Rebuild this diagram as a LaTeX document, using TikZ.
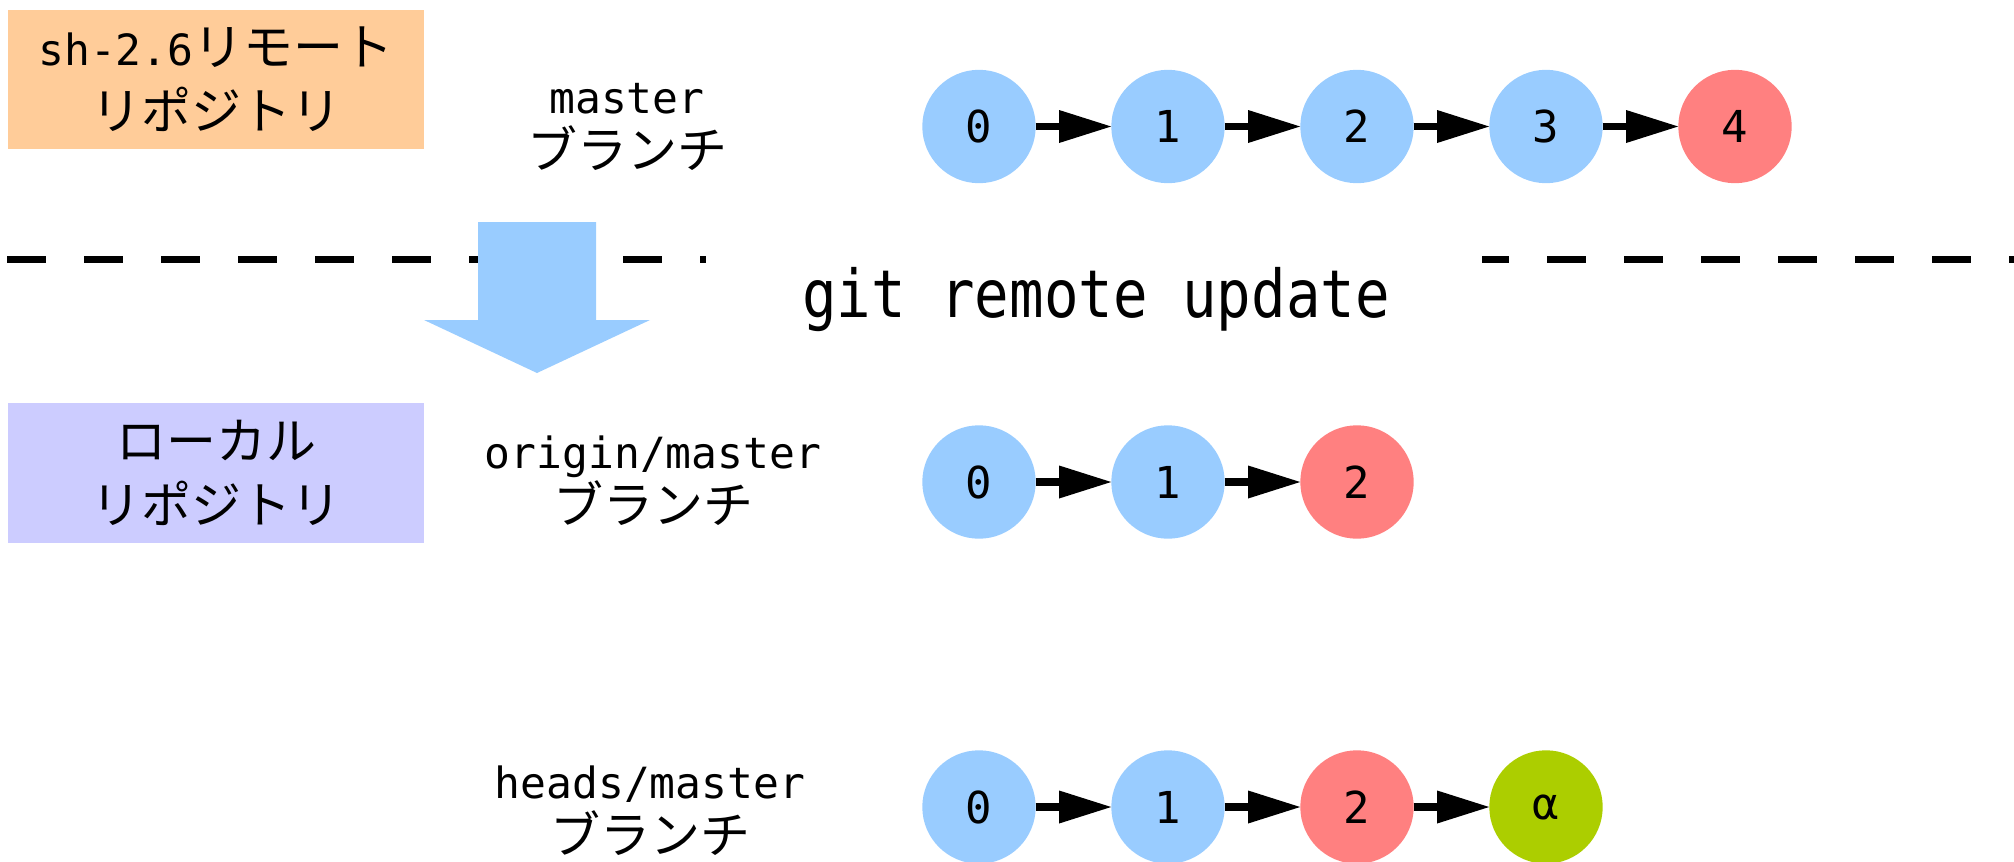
\documentclass[tikz,border=0pt]{standalone}
\usepackage{fontspec}
\setmainfont{DejaVu Sans Mono}
\newfontfamily\jpfont{Noto Sans CJK JP}
\newfontfamily\cmdfont[FakeStretch=0.87]{DejaVu Sans Mono}
\usetikzlibrary{arrows.meta}

\definecolor{commitblue}{RGB}{153,204,255}
\definecolor{commitred}{RGB}{255,128,128}
\definecolor{commitgreen}{RGB}{172,206,0}
\definecolor{remotebg}{RGB}{255,204,153}
\definecolor{localbg}{RGB}{204,204,255}

% Japanese run inside a Latin monospace line
\newcommand\jtxt[1]{{\jpfont\fontsize{50}{55}\selectfont #1}}

\begin{document}
\begin{tikzpicture}[x=1pt,y=-1pt,
  commit/.style={circle, minimum size=113.4pt, inner sep=0pt,
                 font=\fontsize{44}{50}\selectfont},
  oldcommit/.style={commit, fill=commitblue},
  tipcommit/.style={commit, fill=commitred},
  localcommit/.style={commit, fill=commitgreen},
  link/.style={line width=7.3pt,
               -{Triangle[length=52pt,width=33pt,line width=0pt]}},
  branchlabel/.style={align=center, inner sep=0pt,
                      font=\fontsize{43}{55}\selectfont},
  repo/.style={minimum width=416pt, minimum height=139pt, inner sep=0pt,
               align=center, font=\fontsize{43}{57}\selectfont},
  divider/.style={line width=7.5pt, dash pattern=on 39pt off 38pt},
  fetcharrow/.style={fill=commitblue}
]
\useasboundingbox (0,0) rectangle (2014,862);

% repositories
\node[repo, fill=remotebg] (remote) at (216,79.5)
  {sh-2.6\jtxt{リモート}\\[7pt]\jtxt{リポジトリ}};
\node[repo, fill=localbg, minimum height=140pt] (local) at (216,473)
  {\jtxt{ローカル}\\[7pt]\jtxt{リポジトリ}};

% branch names
\node[branchlabel] (lblmaster) at (627,127) {master\\\jtxt{ブランチ}};
\node[branchlabel] (lblorigin) at (653,481) {origin/master\\\jtxt{ブランチ}};
\node[branchlabel] (lblheads) at (650,811) {heads/master\\\jtxt{ブランチ}};

% separator between remote and local side
\draw[divider] (7,259.5) -- (706,259.5);
\draw[divider, dash phase=12pt] (1482,259.5) -- (2014,259.5);
\node[font=\cmdfont\fontsize{66}{70}\selectfont, anchor=base, inner sep=0pt]
  (cmd) at (1096,317) {git remote update};

% fetch direction
\fill[fetcharrow] (478,222) -- (596,222) -- (596,320) -- (650,320)
  -- (537,373) -- (424,320) -- (478,320) -- cycle;

% remote master history
\node[oldcommit] (r0) at (979,126.5) {0};
\node[oldcommit] (r1) at (1168,126.5) {1};
\node[oldcommit] (r2) at (1357,126.5) {2};
\node[oldcommit] (r3) at (1546,126.5) {3};
\node[tipcommit] (r4) at (1735,126.5) {4};
\draw[link] (r0) -- (r1);
\draw[link] (r1) -- (r2);
\draw[link] (r2) -- (r3);
\draw[link] (r3) -- (r4);

% origin/master
\node[oldcommit] (o0) at (979,482) {0};
\node[oldcommit] (o1) at (1168,482) {1};
\node[tipcommit] (o2) at (1357,482) {2};
\draw[link] (o0) -- (o1);
\draw[link] (o1) -- (o2);

% heads/master
\node[oldcommit] (h0) at (979,807) {0};
\node[oldcommit] (h1) at (1168,807) {1};
\node[tipcommit] (h2) at (1357,807) {2};
\node[localcommit] (h3) at (1546,807) {α};
\draw[link] (h0) -- (h1);
\draw[link] (h1) -- (h2);
\draw[link] (h2) -- (h3);
\end{tikzpicture}
\end{document}
